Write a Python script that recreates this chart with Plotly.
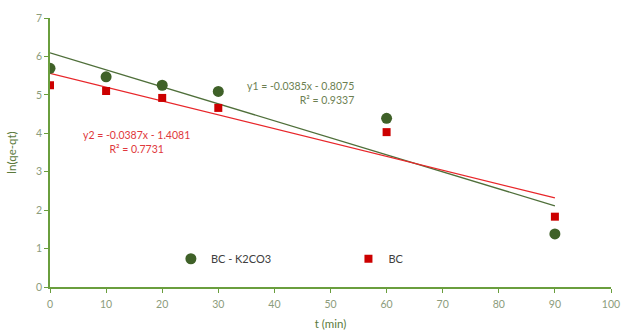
import numpy as np
import plotly.graph_objects as go

t_min = [0, 10, 20, 30, 60, 90]
bc_k2co3 = [5.69, 5.47, 5.25, 5.09, 4.39, 1.38]
bc = [5.25, 5.10, 4.92, 4.66, 4.03, 1.83]

eq1 = ["y1 = -0.0385x - 0.8075", "R² = 0.9337"]
eq2 = ["y2 = -0.0387x - 1.4081", "R² = 0.7731"]

green = "#3f6128"
green_line = "#4f6f3a"
red = "#cc0000"
red_line = "#e8262a"
axis_col = "#6a9e3e"
tick_col = "#8c9c7c"
title_col = "#5b7a3c"
font = "Lato, 'Open Sans', sans-serif"

fig = go.Figure()

x_arr = np.array(t_min, dtype=float)
for ys, col in [(bc_k2co3, green_line), (bc, red_line)]:
    k, b = np.polyfit(x_arr, np.array(ys), 1)
    xl = np.array([x_arr.min(), x_arr.max()])
    fig.add_trace(go.Scatter(x=xl, y=k * xl + b, mode="lines",
                             line=dict(color=col, width=1.3),
                             showlegend=False, hoverinfo="skip"))

fig.add_trace(go.Scatter(x=t_min, y=bc_k2co3, mode="markers", name="BC - K2CO3",
                         legend="legend",
                         marker=dict(symbol="circle", size=11, color=green)))
fig.add_trace(go.Scatter(x=t_min, y=bc, mode="markers", name="BC",
                         legend="legend2",
                         marker=dict(symbol="square", size=8, color=red)))

fig.add_annotation(x=54.6, y=5.05, xref="x", yref="y",
                   text=eq1[0] + "<br>" + eq1[1], showarrow=False, align="right",
                   xanchor="right", yanchor="middle",
                   font=dict(family=font, size=10.5, color="#6c7f52"))
fig.add_annotation(x=15.4, y=3.77, xref="x", yref="y",
                   text=eq2[0] + "<br>" + eq2[1], showarrow=False, align="center",
                   xanchor="center", yanchor="middle",
                   font=dict(family=font, size=10.5, color="#e0383c"))

leg_common = dict(yanchor="middle", xanchor="left", y=0.105,
                  font=dict(family=font, size=11, color="#404040"),
                  bgcolor="rgba(0,0,0,0)", itemwidth=30)

fig.update_layout(
    width=621, height=331,
    margin=dict(l=50, r=10, t=18, b=44, autoexpand=False),
    paper_bgcolor="white", plot_bgcolor="white",
    font=dict(family=font, size=10, color=tick_col),
    showlegend=True,
    legend=dict(x=0.2155, **leg_common),
    legend2=dict(x=0.532, **leg_common),
    xaxis=dict(range=[0, 100], dtick=10, showgrid=False, zeroline=False,
               showline=True, linecolor=axis_col, linewidth=1.5,
               ticks="outside", ticklen=4, tickcolor=axis_col,
               ticklabelstandoff=3,
               tickfont=dict(family=font, size=10.5, color=tick_col),
               title=dict(text="t (min)", standoff=11,
                          font=dict(family=font, size=11.5, color=title_col))),
    yaxis=dict(range=[0, 7], dtick=1, showgrid=False, zeroline=False,
               showline=True, linecolor=axis_col, linewidth=1.5,
               ticks="outside", ticklen=4, tickcolor=axis_col,
               tickfont=dict(family=font, size=10.5, color=tick_col),
               title=dict(text="ln(qe-qt)", standoff=17,
                          font=dict(family=font, size=11.5, color=title_col))),
)

fig.write_html("out.html")
